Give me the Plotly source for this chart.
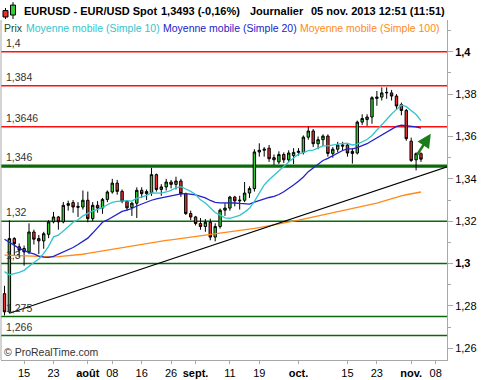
import numpy as np
import pandas as pd
import plotly.graph_objects as go

# ---------------- data ----------------
dates = pd.bdate_range("2013-07-09", "2013-11-05")

open_ = [1.2858, 1.2772, 1.3118, 1.3079, 1.3071, 1.3055, 1.3149, 1.3118, 1.3107, 1.3138,
         1.3197, 1.3220, 1.3197, 1.3275, 1.3288, 1.3270, 1.3267, 1.3299, 1.3212, 1.3275,
         1.3262, 1.3303, 1.3338, 1.3380, 1.3341, 1.3294, 1.3265, 1.3285, 1.3346, 1.3330,
         1.3335, 1.3420, 1.3350, 1.3362, 1.3385, 1.3374, 1.3390, 1.3330, 1.3236, 1.3220,
         1.3189, 1.3175, 1.3195, 1.3125, 1.3175, 1.3252, 1.3262, 1.3314, 1.3296, 1.3299,
         1.3333, 1.3354, 1.3527, 1.3535, 1.3545, 1.3500, 1.3480, 1.3515, 1.3490, 1.3510,
         1.3525, 1.3525, 1.3597, 1.3626, 1.3566, 1.3585, 1.3602, 1.3520, 1.3540, 1.3560,
         1.3560, 1.3530, 1.3522, 1.3668, 1.3680, 1.3692, 1.3780, 1.3786, 1.3806, 1.3806,
         1.3791, 1.3751, 1.3723, 1.3578, 1.3490, 1.3519]
high = [1.2895, 1.3204, 1.3125, 1.3095, 1.3085, 1.3190, 1.3160, 1.3135, 1.3150, 1.3205,
        1.3244, 1.3225, 1.3291, 1.3297, 1.3300, 1.3290, 1.3345, 1.3340, 1.3290, 1.3295,
        1.3310, 1.3345, 1.3400, 1.3395, 1.3350, 1.3300, 1.3290, 1.3360, 1.3360, 1.3350,
        1.3452, 1.3425, 1.3375, 1.3400, 1.3395, 1.3410, 1.3400, 1.3335, 1.3250, 1.3225,
        1.3215, 1.3210, 1.3212, 1.3190, 1.3260, 1.3285, 1.3320, 1.3320, 1.3320, 1.3385,
        1.3365, 1.3540, 1.3568, 1.3550, 1.3560, 1.3515, 1.3530, 1.3525, 1.3535, 1.3545,
        1.3545, 1.3605, 1.3646, 1.3635, 1.3600, 1.3610, 1.3610, 1.3550, 1.3575, 1.3575,
        1.3570, 1.3545, 1.3675, 1.3705, 1.3705, 1.3790, 1.3815, 1.3832, 1.3832, 1.3820,
        1.3800, 1.3760, 1.3730, 1.3595, 1.3525, 1.3525]
low = [1.2755, 1.2765, 1.3040, 1.3030, 1.2990, 1.3045, 1.3090, 1.3045, 1.3070, 1.3120,
       1.3190, 1.3160, 1.3190, 1.3250, 1.3240, 1.3220, 1.3255, 1.3195, 1.3200, 1.3240,
       1.3235, 1.3290, 1.3330, 1.3325, 1.3285, 1.3250, 1.3225, 1.3215, 1.3310, 1.3300,
       1.3320, 1.3340, 1.3320, 1.3345, 1.3355, 1.3350, 1.3315, 1.3230, 1.3205, 1.3180,
       1.3160, 1.3150, 1.3110, 1.3105, 1.3165, 1.3225, 1.3250, 1.3270, 1.3255, 1.3290,
       1.3310, 1.3340, 1.3505, 1.3505, 1.3480, 1.3465, 1.3470, 1.3475, 1.3480, 1.3470,
       1.3510, 1.3515, 1.3585, 1.3550, 1.3540, 1.3555, 1.3505, 1.3500, 1.3525, 1.3535,
       1.3505, 1.3472, 1.3515, 1.3655, 1.3650, 1.3660, 1.3745, 1.3770, 1.3778, 1.3770,
       1.3730, 1.3700, 1.3580, 1.3480, 1.3440, 1.3480]
close = [1.2772, 1.3118, 1.3094, 1.3063, 1.3055, 1.3149, 1.3115, 1.3107, 1.3141, 1.3197,
         1.3220, 1.3197, 1.3275, 1.3283, 1.3267, 1.3266, 1.3299, 1.3212, 1.3275, 1.3262,
         1.3303, 1.3338, 1.3380, 1.3341, 1.3294, 1.3263, 1.3285, 1.3346, 1.3330, 1.3340,
         1.3420, 1.3350, 1.3362, 1.3385, 1.3374, 1.3390, 1.3330, 1.3236, 1.3220, 1.3189,
         1.3175, 1.3195, 1.3125, 1.3175, 1.3252, 1.3262, 1.3314, 1.3296, 1.3299, 1.3333,
         1.3354, 1.3527, 1.3535, 1.3540, 1.3495, 1.3490, 1.3515, 1.3490, 1.3522, 1.3525,
         1.3530, 1.3597, 1.3626, 1.3566, 1.3585, 1.3602, 1.3520, 1.3540, 1.3560, 1.3555,
         1.3522, 1.3520, 1.3668, 1.3685, 1.3692, 1.3783, 1.3786, 1.3806, 1.3808, 1.3791,
         1.3744, 1.3723, 1.3590, 1.3487, 1.3519, 1.3493]

sma10 = [1.2962, 1.2946, 1.2952, 1.2958, 1.2968, 1.2988, 1.3005, 1.3022, 1.3048,
         1.3081, 1.3126, 1.3134, 1.3152, 1.3174, 1.3195, 1.3207, 1.3225, 1.3236, 1.3249,
         1.3256, 1.3264, 1.3278, 1.3289, 1.3294, 1.3297, 1.3297, 1.3295, 1.3309, 1.3314,
         1.3322, 1.3334, 1.3335, 1.3333, 1.3338, 1.3346, 1.3358, 1.3363, 1.3352, 1.3341,
         1.3326, 1.3301, 1.3286, 1.3262, 1.3241, 1.3229, 1.3216, 1.3214, 1.3220, 1.3228,
         1.3243, 1.3261, 1.3294, 1.3335, 1.3371, 1.3396, 1.3418, 1.3438, 1.3458, 1.3480,
         1.3499, 1.3517, 1.3524, 1.3533, 1.3536, 1.3545, 1.3556, 1.3556, 1.3561, 1.3565,
         1.3568, 1.3567, 1.3560, 1.3564, 1.3576, 1.3586, 1.3605, 1.3631, 1.3658, 1.3683,
         1.3706, 1.3728, 1.3749, 1.3741, 1.3721, 1.3704, 1.3675]
sma20 = [1.3115, 1.3100, 1.3085, 1.3072, 1.3062, 1.3052, 1.3046, 1.3035, 1.3030, 1.3029,
         1.3034, 1.3044, 1.3056, 1.3066, 1.3076, 1.3090, 1.3104, 1.3120, 1.3144,
         1.3168, 1.3195, 1.3206, 1.3220, 1.3234, 1.3246, 1.3252, 1.3260, 1.3272, 1.3282,
         1.3289, 1.3299, 1.3306, 1.3311, 1.3316, 1.3321, 1.3327, 1.3329, 1.3330, 1.3327,
         1.3324, 1.3317, 1.3310, 1.3298, 1.3289, 1.3287, 1.3287, 1.3289, 1.3286, 1.3284,
         1.3284, 1.3281, 1.3290, 1.3298, 1.3306, 1.3312, 1.3317, 1.3326, 1.3339, 1.3354,
         1.3371, 1.3389, 1.3409, 1.3434, 1.3453, 1.3470, 1.3487, 1.3497, 1.3510, 1.3523,
         1.3534, 1.3542, 1.3542, 1.3548, 1.3556, 1.3566, 1.3580, 1.3594, 1.3610, 1.3624,
         1.3637, 1.3648, 1.3654, 1.3652, 1.3648, 1.3645, 1.3640]
sma100 = [1.3040, 1.3039, 1.3038, 1.3037, 1.3036, 1.3036, 1.3035, 1.3034, 1.3033, 1.3032,
          1.3032, 1.3033, 1.3035, 1.3037, 1.3039, 1.3040, 1.3044, 1.3048, 1.3052, 1.3056,
          1.3060, 1.3064, 1.3067, 1.3071, 1.3074, 1.3078, 1.3082, 1.3087, 1.3091, 1.3096,
          1.3100, 1.3103, 1.3106, 1.3109, 1.3112, 1.3115, 1.3118, 1.3122, 1.3125, 1.3129,
          1.3132, 1.3135, 1.3137, 1.3140, 1.3142, 1.3145, 1.3148, 1.3152, 1.3155, 1.3159,
          1.3162, 1.3166, 1.3170, 1.3174, 1.3179, 1.3183, 1.3187, 1.3192, 1.3196, 1.3201,
          1.3205, 1.3210, 1.3215, 1.3220, 1.3225, 1.3230, 1.3235, 1.3240, 1.3244, 1.3249,
          1.3254, 1.3259, 1.3264, 1.3268, 1.3273, 1.3278, 1.3285, 1.3293, 1.3300, 1.3308,
          1.3315, 1.3320, 1.3325, 1.3330, 1.3334, 1.3338]

level_values = [1.4, 1.384, 1.3646, 1.346, 1.32, 1.3, 1.275, 1.266]
level_labels = ["1,4", "1,384", "1,3646", "1,346", "1,32", "1,3", "1,275", "1,266"]
level_kinds = ["res", "res", "res", "major", "sup", "sup", "sup", "sup"]

trend_dates = ["2013-07-10", "2013-11-19"]
trend_values = [1.2765, 1.3493]

arrow_dates = ["2013-11-04", "2013-11-07"]
arrow_values = [1.3506, 1.3613]

tick_dates = ["2013-07-15", "2013-07-23", "2013-08-01", "2013-08-08", "2013-08-16",
              "2013-08-26", "2013-09-02", "2013-09-11", "2013-09-19", "2013-10-01",
              "2013-10-15", "2013-10-23", "2013-11-01", "2013-11-08"]
tick_labels = ["15", "23", "<b>août</b>", "08", "16", "26", "<b>sept.</b>", "11", "19",
               "<b>oct.</b>", "15", "23", "<b>nov.</b>", "08"]

y_tick_vals = [1.26, 1.28, 1.30, 1.32, 1.34, 1.36, 1.38, 1.40]
y_tick_text = ["1,26", "1,28", "<b>1,3</b>", "1,32", "1,34", "1,36", "1,38", "<b>1,4</b>"]

# ---------------- helpers ----------------
start = np.datetime64("2013-07-09")


def pos(d):
    return float(np.busday_count(start, np.datetime64(d)))


x_idx = [pos(str(d.date())) for d in dates]
tick_pos = [pos(d) for d in tick_dates]

W, H = 500, 380
ML, MR, MT, MB = 1, 53, 20, 18
PW, PH = W - ML - MR, H - MT - MB


def px(x):
    return (x - ML) / PW


def py(y):
    return (H - MB - y) / PH


FONT = "Liberation Sans, Arial, sans-serif"
GREEN_UP = "#34cc34"
RED_DN = "#e8302c"
CYAN = "#33c4cc"
BLUE = "#2222c8"
ORANGE = "#ff8a1a"
DKGREEN = "#0a6a0a"

fig = go.Figure()

fig.add_trace(go.Candlestick(
    x=x_idx, open=open_, high=high, low=low, close=close,
    increasing=dict(fillcolor=GREEN_UP, line=dict(color="#000000", width=1)),
    decreasing=dict(fillcolor=RED_DN, line=dict(color="#000000", width=1)),
    whiskerwidth=0, showlegend=False, hoverinfo="skip"))

fig.add_trace(go.Scatter(x=x_idx, y=sma100, mode="lines",
                         line=dict(color=ORANGE, width=1.3), showlegend=False, hoverinfo="skip"))
fig.add_trace(go.Scatter(x=x_idx, y=sma20, mode="lines",
                         line=dict(color=BLUE, width=1.3), showlegend=False, hoverinfo="skip"))
fig.add_trace(go.Scatter(x=x_idx, y=sma10, mode="lines",
                         line=dict(color=CYAN, width=1.3), showlegend=False, hoverinfo="skip"))

# trend line
fig.add_trace(go.Scatter(x=[pos(d) for d in trend_dates], y=trend_values, mode="lines",
                         line=dict(color="#000000", width=1.1), showlegend=False,
                         hoverinfo="skip", cliponaxis=True))

shapes = []
annotations = []

for v, lab, kind in zip(level_values, level_labels, level_kinds):
    if kind == "res":
        col, w = "#ff1010", 1.4
    elif kind == "major":
        col, w = DKGREEN, 3.2
    else:
        col, w = DKGREEN, 1.5
    shapes.append(dict(type="line", xref="paper", x0=0, x1=1, yref="y", y0=v, y1=v,
                       line=dict(color=col, width=w), layer="below"))
    annotations.append(dict(xref="paper", x=px(4), yref="y", y=v, text=lab,
                            showarrow=False, xanchor="left", yanchor="bottom", yshift=1,
                            font=dict(family=FONT, size=10.5, color="#333333")))

# left frame line
shapes.append(dict(type="line", xref="paper", x0=0, x1=0, yref="paper", y0=0, y1=1,
                   line=dict(color="#a8a8a8", width=1)))

# header icon: two mini candles
def rect(x0, y0, x1, y1, fill):
    shapes.append(dict(type="rect", xref="paper", yref="paper",
                       x0=px(x0), x1=px(x1), y0=py(y1), y1=py(y0),
                       fillcolor=fill, line=dict(color="#000000", width=1)))


def vline(x, y0, y1):
    shapes.append(dict(type="line", xref="paper", yref="paper",
                       x0=px(x), x1=px(x), y0=py(y1), y1=py(y0),
                       line=dict(color="#000000", width=1)))


vline(5.5, 8, 19)
rect(3, 10.5, 8, 17, RED_DN)
vline(13, 2, 19)
rect(10.5, 5, 15.5, 15, GREEN_UP)

# header text
hy = py(10.5)
for xx, txt in [(22, "EURUSD - EUR/USD Spot"), (159, "1,3493 (-0,16%)"),
                (248, "Journalier"), (309, "05 nov. 2013 12:51 (11:51)")]:
    annotations.append(dict(xref="paper", yref="paper", x=px(xx), y=hy, text="<b>" + txt + "</b>",
                            showarrow=False, xanchor="left", yanchor="middle",
                            font=dict(family=FONT, size=11, color="#000000")))

# legend row
ly = py(28)
for xx, txt, col in [(1.5, "Prix", "#1e4a1e"), (24, "Moyenne mobile (Simple 10)", CYAN),
                     (161, "Moyenne mobile (Simple 20)", BLUE),
                     (297.5, "Moyenne mobile (Simple 100)", ORANGE)]:
    annotations.append(dict(xref="paper", yref="paper", x=px(xx), y=ly, text=txt,
                            showarrow=False, xanchor="left", yanchor="middle",
                            font=dict(family=FONT, size=10.5, color=col)))

# watermark
annotations.append(dict(xref="paper", yref="paper", x=px(2), y=py(354), text="© ProRealTime.com",
                        showarrow=False, xanchor="left", yanchor="middle",
                        font=dict(family=FONT, size=10.5, color="#333333")))

# arrow
annotations.append(dict(x=pos(arrow_dates[1]), y=arrow_values[1], xref="x", yref="y",
                        ax=pos(arrow_dates[0]), ay=arrow_values[0], axref="x", ayref="y",
                        showarrow=True, arrowhead=2, arrowsize=1.1, arrowwidth=2.5,
                        arrowcolor="#1a7d1a", text=""))

fig.update_layout(
    width=W, height=H,
    margin=dict(l=ML, r=MR, t=MT, b=MB, pad=0),
    paper_bgcolor="#ffffff", plot_bgcolor="#ffffff",
    showlegend=False,
    shapes=shapes, annotations=annotations,
    xaxis=dict(range=[-0.714, 90.31], showgrid=False, zeroline=False,
               showline=True, linecolor="#a8a8a8", linewidth=1,
               tickmode="array", tickvals=tick_pos, ticktext=tick_labels,
               ticks="outside", ticklen=3, tickcolor="#a8a8a8",
               tickfont=dict(family=FONT, size=11, color="#000000"),
               rangeslider=dict(visible=False), fixedrange=True),
    yaxis=dict(range=[1.25446, 1.41502], side="right", showgrid=False, zeroline=False,
               showline=True, linecolor="#a8a8a8", linewidth=1,
               tickmode="array", tickvals=y_tick_vals, ticktext=y_tick_text,
               ticks="outside", ticklen=5, tickcolor="#a8a8a8",
               minor=dict(dtick=0.01, tick0=1.25, ticks="outside", ticklen=3, tickcolor="#a8a8a8"),
               tickfont=dict(family=FONT, size=11, color="#000000"), fixedrange=True),
)

fig.write_html("out.html", config={"displayModeBar": False, "staticPlot": True},
               post_script="document.body.style.margin='0px';document.body.style.overflow='hidden';")
